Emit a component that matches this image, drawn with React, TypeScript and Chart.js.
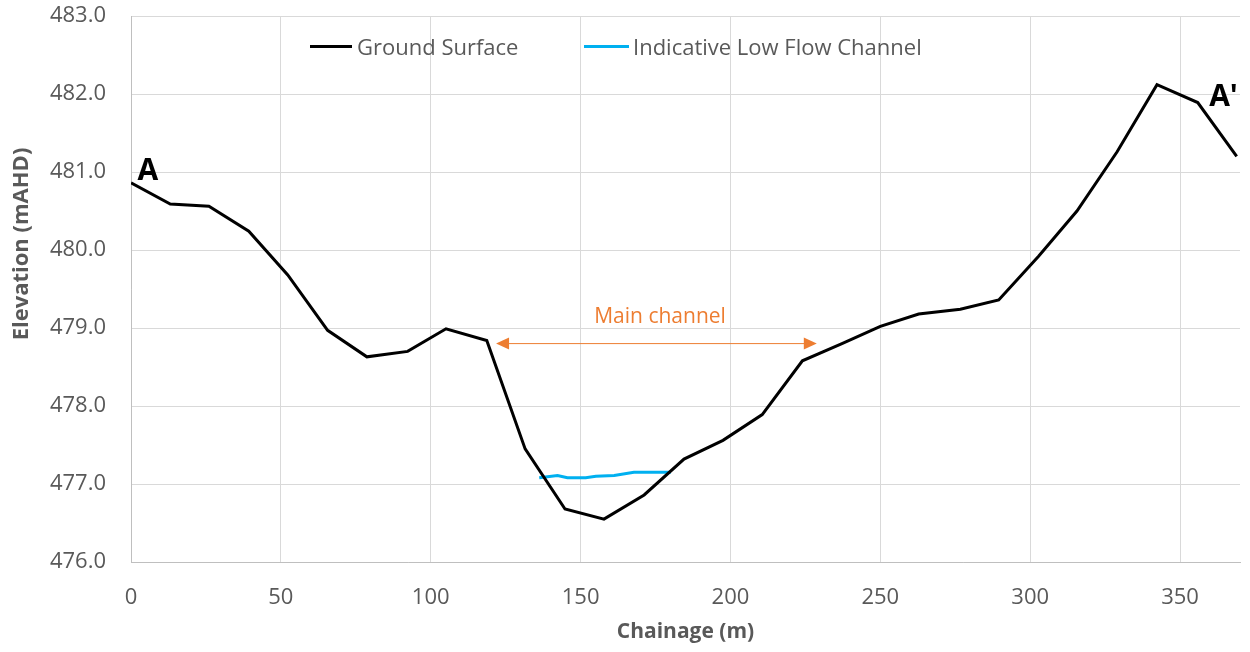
import React, { useEffect, useRef } from "react";
import { Chart, registerables } from "chart.js";

Chart.register(...registerables);

// ---- Data ----
const groundChainage = [0, 13.1, 26.0, 39.3, 52.3, 65.6, 78.7, 92.3, 105.1, 118.7, 131.5, 144.8, 157.8, 171.2, 184.5, 197.5, 210.6, 224.0, 237.2, 250.0, 262.8, 276.7, 289.5, 302.8, 315.6, 329.0, 342.3, 355.9, 368.9];
const groundElevation = [480.86, 480.59, 480.56, 480.24, 479.68, 478.97, 478.63, 478.70, 478.99, 478.84, 477.45, 476.68, 476.55, 476.86, 477.32, 477.56, 477.89, 478.58, 478.80, 479.02, 479.18, 479.24, 479.36, 479.92, 480.50, 481.26, 482.12, 481.89, 481.20];

const lowFlowChainage = [136.2, 142.3, 145.6, 151.7, 155.1, 161.2, 167.8, 173.9, 180.1];
const lowFlowElevation = [477.08, 477.11, 477.08, 477.08, 477.10, 477.11, 477.15, 477.15, 477.15];

const seriesLabels = ["Ground Surface", "Indicative Low Flow Channel"];
const seriesColors = ["#000000", "#00B0F0"];

const mainChannelFrom = 121.8;
const mainChannelTo = 228.8;
const mainChannelLevel = 478.8;
const mainChannelLabel = "Main channel";
const mainChannelLabelX = 176.5;
const mainChannelLabelY = 479.06;

const sectionLabels = ["A", "A'"];
const sectionLabelX = [2.2, 359.7];
const sectionLabelY = [480.9, 481.85];

const xTitle = "Chainage (m)";
const yTitle = "Elevation (mAHD)";

const FONT = "'Open Sans', sans-serif";
const TEXT = "#595959";
const ORANGE = "#ED7D31";

const overlayPlugin = {
  id: "overlay",
  afterDatasetsDraw(chart: any) {
    const ctx = chart.ctx;
    const xs = chart.scales.x;
    const ys = chart.scales.y;
    ctx.save();

    // Y axis title (Excel places it off-centre)
    ctx.save();
    ctx.translate(22, 244);
    ctx.rotate(-Math.PI / 2);
    ctx.font = `bold 22px ${FONT}`;
    ctx.fillStyle = TEXT;
    ctx.textAlign = "center";
    ctx.textBaseline = "middle";
    ctx.fillText(yTitle, 0, 0);
    ctx.restore();

    // Main channel arrow
    const x1 = xs.getPixelForValue(mainChannelFrom);
    const x2 = xs.getPixelForValue(mainChannelTo);
    const y = ys.getPixelForValue(mainChannelLevel);
    const head = 13;
    const hw = 6;
    ctx.strokeStyle = ORANGE;
    ctx.fillStyle = ORANGE;
    ctx.lineWidth = 1;
    ctx.beginPath();
    ctx.moveTo(x1 + head - 1, y);
    ctx.lineTo(x2 - head + 1, y);
    ctx.stroke();
    ctx.beginPath();
    ctx.moveTo(x1, y);
    ctx.lineTo(x1 + head, y - hw);
    ctx.lineTo(x1 + head, y + hw);
    ctx.closePath();
    ctx.fill();
    ctx.beginPath();
    ctx.moveTo(x2, y);
    ctx.lineTo(x2 - head, y - hw);
    ctx.lineTo(x2 - head, y + hw);
    ctx.closePath();
    ctx.fill();

    ctx.font = `21px ${FONT}`;
    ctx.textAlign = "center";
    ctx.textBaseline = "alphabetic";
    ctx.fillText(mainChannelLabel, xs.getPixelForValue(mainChannelLabelX), ys.getPixelForValue(mainChannelLabelY));

    // Section labels
    ctx.fillStyle = "#000000";
    ctx.font = `bold 30px ${FONT}`;
    ctx.textAlign = "left";
    sectionLabels.forEach((t, i) => {
      ctx.fillText(t, xs.getPixelForValue(sectionLabelX[i]), ys.getPixelForValue(sectionLabelY[i]));
    });

    // Legend
    const items = [
      { x0: 310, x1: 352, tx: 357 },
      { x0: 584, x1: 629, tx: 633 },
    ];
    const ly = 46.5;
    ctx.font = `22px ${FONT}`;
    chart.data.datasets.forEach((ds: any, i: number) => {
      const it = items[i];
      ctx.strokeStyle = ds.borderColor;
      ctx.lineWidth = 3;
      ctx.beginPath();
      ctx.moveTo(it.x0, ly);
      ctx.lineTo(it.x1, ly);
      ctx.stroke();
      ctx.fillStyle = TEXT;
      ctx.textBaseline = "alphabetic";
      ctx.fillText(ds.label, it.tx, 55);
    });
    ctx.restore();
  },
};

export default function App() {
  const ref = useRef<HTMLCanvasElement>(null);
  useEffect(() => {
    if (!ref.current) return;
    const chart = new Chart(ref.current, {
      type: "line",
      data: {
        datasets: [
          {
            label: seriesLabels[0],
            data: groundChainage.map((x, i) => ({ x, y: groundElevation[i] })),
            borderColor: seriesColors[0],
            borderWidth: 3,
            pointRadius: 0,
            tension: 0,
          },
          {
            label: seriesLabels[1],
            data: lowFlowChainage.map((x, i) => ({ x, y: lowFlowElevation[i] })),
            borderColor: seriesColors[1],
            borderWidth: 3,
            pointRadius: 0,
            tension: 0,
          },
        ],
      },
      options: {
        responsive: false,
        animation: false,
        layout: { padding: { top: 16, right: 10, left: 0, bottom: 0 } },
        plugins: {
          legend: { display: false },
          tooltip: { enabled: false },
        },
        scales: {
          x: {
            type: "linear",
            min: 0,
            max: 370,
            ticks: {
              stepSize: 50,
              includeBounds: false,
              color: TEXT,
              font: { family: FONT, size: 22 },
              padding: 23,
              maxRotation: 0,
            },
            grid: { color: "#d9d9d9", lineWidth: 1, drawTicks: false },
            border: { display: true, color: "#bfbfbf", width: 1 },
            title: {
              display: true,
              text: xTitle,
              color: TEXT,
              font: { family: FONT, size: 21, weight: "bold" },
              padding: { top: 0, bottom: 7 },
            },
            afterFit(scale: any) {
              scale.height = 90;
              scale.paddingLeft = 0;
              scale.paddingRight = 0;
            },
          },
          y: {
            type: "linear",
            min: 476,
            max: 483,
            ticks: {
              stepSize: 1,
              color: TEXT,
              font: { family: FONT, size: 22 },
              padding: 25,
              callback: (v: any) => Number(v).toFixed(1),
            },
            grid: { color: "#d9d9d9", lineWidth: 1, drawTicks: false },
            border: { display: true, color: "#bfbfbf", width: 1 },
            title: { display: false, text: yTitle },
            afterFit(scale: any) {
              scale.width = 131;
              scale.paddingTop = 0;
              scale.paddingBottom = 0;
            },
          },
        },
      },
      plugins: [overlayPlugin],
    });
    return () => chart.destroy();
  }, []);

  return (
    <div style={{ position: "absolute", left: 0, top: 0, width: 1250, height: 652, background: "#fff" }}>
      <canvas ref={ref} width={1250} height={652} />
    </div>
  );
}
